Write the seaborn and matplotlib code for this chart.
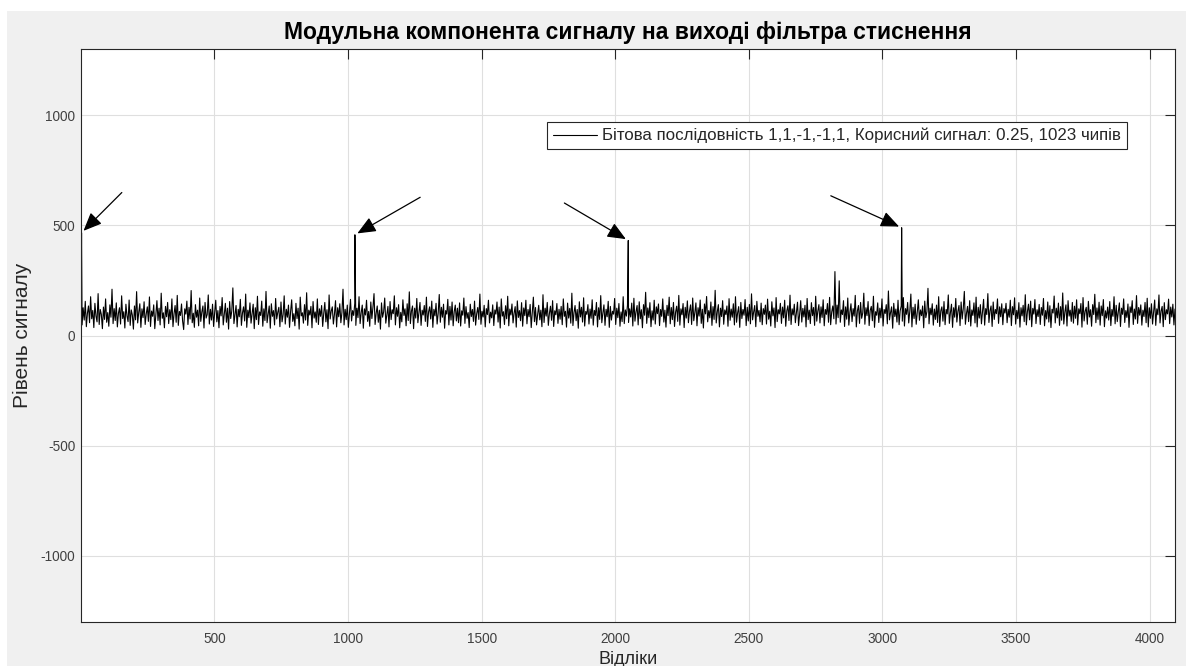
import numpy as np
import pandas as pd
import matplotlib
matplotlib.use("Agg")
import matplotlib.pyplot as plt
from matplotlib.patches import Rectangle
import seaborn as sns

# ---- labels -------------------------------------------------------------
title = "Модульна компонента сигналу на виході фільтра стиснення"
x_label = "Відліки"
y_label = "Рівень сигналу"
series_label = "Бітова послідовність 1,1,-1,-1,1, Корисний сигнал: 0.25, 1023 чипів"

x_ticks = [500, 1000, 1500, 2000, 2500, 3000, 3500, 4000]
y_ticks = [-1000, -500, 0, 500, 1000]

# ---- correlation peaks (one per 1023-chip code period) ------------------
peak_positions = [3, 1026, 2049, 3072]
peak_levels = [466, 457, 431, 489]

# ---- modulus of the filter output between the peaks ---------------------
noise_levels = [
    92, 48, 126, 70, 155, 40, 101, 134, 58, 176, 76, 114, 36, 146, 88, 62,
    190, 50, 118, 96, 31, 129, 73, 166, 60, 104, 42, 139, 83, 210, 54, 122,
    68, 148, 39, 101, 126, 52, 180, 77, 108, 34, 142, 89, 63, 161, 46, 116,
    93, 29, 134, 71, 199, 57, 105, 144, 37, 121, 81, 153, 50, 98, 130, 64,
    175, 41, 111, 87, 139, 31, 95, 158, 68, 124, 48, 192, 78, 103, 35, 132,
    85, 150, 54, 117, 72, 166, 40, 99, 136, 60, 182, 46, 109, 91, 143, 66,
    27, 121, 97, 156, 50, 128, 75, 204, 58, 101, 37, 140, 83, 115, 44, 170,
    64, 107, 134, 34, 150, 79, 95, 184, 52, 119, 70, 142, 41, 105, 160, 62,
    113, 35, 132, 89, 172, 48, 99, 146, 60, 124, 29, 154, 77, 111, 216, 54,
    93, 136, 39, 119, 85, 164, 46, 103, 130, 66, 188, 37, 115, 81, 148, 56,
    101, 142, 31, 126, 72, 178, 50, 107, 91, 156, 42, 121, 68, 200, 58, 97,
    134, 33, 144, 87, 113, 48, 168, 75, 105, 128, 40, 152, 62, 95, 180, 52,
    119, 83, 138, 37, 109, 162, 64, 99, 44, 146, 77, 124, 29, 174, 89, 103,
    56, 140, 70, 194, 46, 115, 93, 132, 35, 154, 79, 107, 60, 166, 50, 121,
    87, 136, 41, 101, 150, 62, 117, 31, 184, 75, 111, 130, 52, 97, 158, 39,
    126, 85, 144, 58, 105, 210, 48, 119, 72, 138, 37, 99, 164, 66, 113, 91,
    146, 46, 124, 81, 176, 54, 103, 138, 33, 121, 93, 160, 64, 109, 42, 152,
    77, 128, 190, 50, 101, 134, 60, 115, 29, 148, 83, 107, 170, 56, 95, 132,
    39, 154, 72, 117, 99, 180, 48, 126, 87, 140, 35, 105, 62, 162, 91, 121,
    44, 144, 68, 198, 54, 111, 134, 31, 124, 79, 168, 58, 103, 150, 46, 115,
    93, 136, 64, 174, 41, 107, 130, 75, 156, 37, 119, 89, 146, 52, 101, 186,
    60, 128, 83, 142, 33, 113, 97, 164, 48, 132, 70, 152, 44, 109, 138, 66,
    124, 58, 148, 43, 112, 92, 170, 55, 131, 78, 104, 36, 142, 86, 118, 64,
    156, 47, 99, 127, 73, 188, 51, 110, 84, 137, 39, 122, 95, 160, 57, 106,
    80, 139, 45, 116, 97, 152, 61, 129, 34, 166, 88, 108, 50, 135, 76, 178,
    44, 120, 93, 143, 57, 102, 131, 38, 157, 82, 113, 67, 149, 42, 125, 90,
    160, 53, 118, 85, 141, 36, 105, 174, 63, 127, 48, 95, 137, 71, 115, 40,
    185, 59, 124, 88, 150, 46, 100, 133, 69, 158, 41, 112, 94, 145, 55, 119,
    74, 132, 49, 166, 87, 110, 38, 147, 79, 123, 56, 192, 45, 104, 136, 67,
    118, 33, 153, 84, 128, 61, 171, 43, 109, 96, 140, 52, 120, 78, 162, 47,
    114, 91, 150, 39, 126, 73, 181, 58, 102, 139, 46, 119, 85, 155, 37, 132,
    70, 110, 97, 168, 50, 124, 81, 145, 42, 107, 63, 176, 54, 116, 88, 137,
    59, 121, 84, 147, 43, 169, 65, 108, 136, 48, 153, 76, 117, 35, 140, 92,
    196, 55, 125, 81, 149, 40, 112, 70, 160, 52, 130, 99, 143, 45, 118, 87,
    166, 61, 115, 38, 137, 90, 174, 53, 127, 72, 150, 41, 106, 133, 64, 182,
    47, 121, 94, 145, 36, 128, 79, 157, 58, 111, 139, 50, 170, 67, 104, 148,
    44, 126, 88, 161, 55, 119, 34, 143, 98, 177, 62, 113, 80, 152, 46, 131,
    73, 205, 57, 108, 140, 39, 124, 86, 158, 51, 116, 95, 134, 42, 167, 69,
    120, 83, 144, 48, 176, 60, 103, 131, 37, 150, 77, 118, 92, 163, 45, 128,
    66, 141, 53, 189, 71, 107, 136, 40, 155, 87, 114, 62, 147, 49, 122, 96,
    138, 52, 165, 74, 110, 43, 153, 89, 125, 36, 172, 63, 117, 98, 146, 55,
    129, 80, 160, 42, 112, 135, 68, 183, 50, 121, 93, 142, 58, 106, 151, 45,
    97, 158, 61, 123, 84, 137, 39, 168, 72, 115, 54, 149, 90, 127, 46, 178,
    65, 111, 140, 57, 130, 82, 162, 44, 118, 96, 145, 60, 173, 49, 107, 134,
    76, 290, 52, 138, 81, 248, 60, 116, 95, 158, 41, 130, 74, 170, 47, 106,
    144, 63, 122, 88, 182, 39, 112, 136, 55, 150, 78, 102, 192, 51, 126, 90,
    154, 45, 114, 132, 67, 178, 37, 108, 92, 148, 59, 124, 80, 166, 43, 118,
    100, 140, 53, 202, 71, 104, 130, 33, 146, 86, 120, 61, 160, 49, 112, 134,
    65, 172, 43, 122, 96, 150, 57, 110, 188, 39, 128, 77, 142, 51, 104, 162,
    69, 116, 90, 134, 35, 156, 81, 108, 214, 53, 124, 94, 144, 47, 120, 73,
    138, 59, 176, 41, 112, 130, 65, 154, 49, 118, 98, 184, 55, 104, 142, 37,
    126, 83, 168, 61, 110, 136, 45, 152, 75, 122, 200, 51, 100, 132, 63, 158,
    43, 116, 91, 148, 57, 174, 39, 128, 79, 140, 53, 106, 164, 47, 122, 95,
    190, 59, 112, 134, 41, 152, 73, 118, 99, 166, 55, 130, 85, 144, 49, 122,
    102, 146, 58, 119, 83, 160, 45, 131, 94, 171, 52, 114, 76, 149, 38, 126,
    89, 137, 63, 185, 48, 109, 142, 71, 156, 40, 123, 97, 163, 54, 117, 86,
    141, 50, 127, 92, 168, 44, 113, 75, 152, 61, 135, 36, 119, 102, 179, 57,
    124, 80, 147, 46, 131, 69, 193, 52, 106, 139, 43, 158, 88, 115, 64, 150,
    56, 133, 78, 162, 48, 121, 99, 145, 38, 172, 66, 110, 128, 51, 155, 84,
    117, 42, 140, 95, 187, 58, 125, 73, 151, 47, 134, 90, 163, 40, 112, 79,
    129, 70, 154, 45, 118, 87, 176, 53, 137, 63, 108, 148, 41, 124, 96, 166,
    59, 113, 82, 143, 37, 130, 104, 158, 50, 120, 75, 181, 55, 127, 92, 139,
    47, 115, 86, 150, 58, 169, 39, 126, 78, 144, 52, 106, 161, 46, 121, 94,
    184, 57, 111, 132, 40, 149, 72, 117, 98, 165, 54, 129, 84, 142, 48, 120,
]

n_samples = 4095

# sample axis: the noise readings are spread evenly over the record,
# the correlation peaks sit at their own sample indices
noise_x = np.linspace(1, n_samples, len(noise_levels))
df = pd.DataFrame({
    "sample": np.concatenate([noise_x, peak_positions]),
    "level": np.concatenate([noise_levels, peak_levels]),
}).sort_values("sample", kind="mergesort")

# ---- style ------------------------------------------------------------
sns.set_style("white")
plt.rcParams["font.family"] = ["Liberation Sans", "DejaVu Sans"]
plt.rcParams["axes.unicode_minus"] = False

W, H = 1186, 666
fig = plt.figure(figsize=(W / 100, H / 100), dpi=100)
fig.patch.set_facecolor("white")
fig.patches.append(Rectangle((7 / W, 0), 1 - 7 / W, 1 - 11 / H,
                             transform=fig.transFigure, facecolor="#f0f0f0",
                             edgecolor="none", zorder=-10))

ax = fig.add_axes([81 / W, 1 - 622 / H, (1175 - 81) / W, (622 - 49) / H])
ax.set_facecolor("white")

sns.lineplot(data=df, x="sample", y="level", ax=ax, color="black",
             linewidth=0.8, sort=False, estimator=None, label=series_label)

ax.set_xlim(1, n_samples)
ax.set_ylim(-1300, 1300)
ax.set_xticks(x_ticks)
ax.set_yticks(y_ticks)

ax.grid(True, color="#dfdfdf", linewidth=0.8)
ax.set_axisbelow(True)
for s in ax.spines.values():
    s.set_color("#262626")
    s.set_linewidth(0.8)
ax.tick_params(direction="in", length=7, width=0.8, color="#262626",
               labelsize=9.8, labelcolor="#404040", top=True, right=True,
               labeltop=False, labelright=False)
ax.tick_params(axis="x", pad=7)
ax.tick_params(axis="y", pad=4)

ax.set_title(title, fontsize=16.5, fontweight="bold", color="black", pad=7)
ax.set_xlabel(x_label, fontsize=13, color="#262626")
ax.set_ylabel(y_label, fontsize=15, color="#262626")
ax.xaxis.set_label_coords(0.5, -0.05)
ax.yaxis.set_label_coords(-0.045, 0.5)

# arrows pointing at the correlation peaks (tail offsets in points)
tail_offsets = [(29, 29), (47, 27), (-46, 27), (-51, 23)]
for px, py, off in zip(peak_positions, peak_levels, tail_offsets):
    ax.annotate("", xy=(px, py), xytext=off, textcoords="offset points",
                arrowprops=dict(arrowstyle="-|>,head_length=0.75,head_width=0.32",
                                mutation_scale=15, color="black", lw=0.9,
                                shrinkA=0, shrinkB=2))

leg = ax.legend(loc="upper left", bbox_to_anchor=(0.426, 0.8726),
                borderaxespad=0, frameon=True, fancybox=False,
                edgecolor="#262626", facecolor="white", framealpha=1,
                fontsize=12.2, handlelength=2.6, handletextpad=0.3,
                borderpad=0.35)
leg.get_frame().set_linewidth(0.8)
for line in leg.get_lines():
    line.set_linewidth(0.8)

fig.savefig("out.png", dpi=100, facecolor=fig.get_facecolor())
